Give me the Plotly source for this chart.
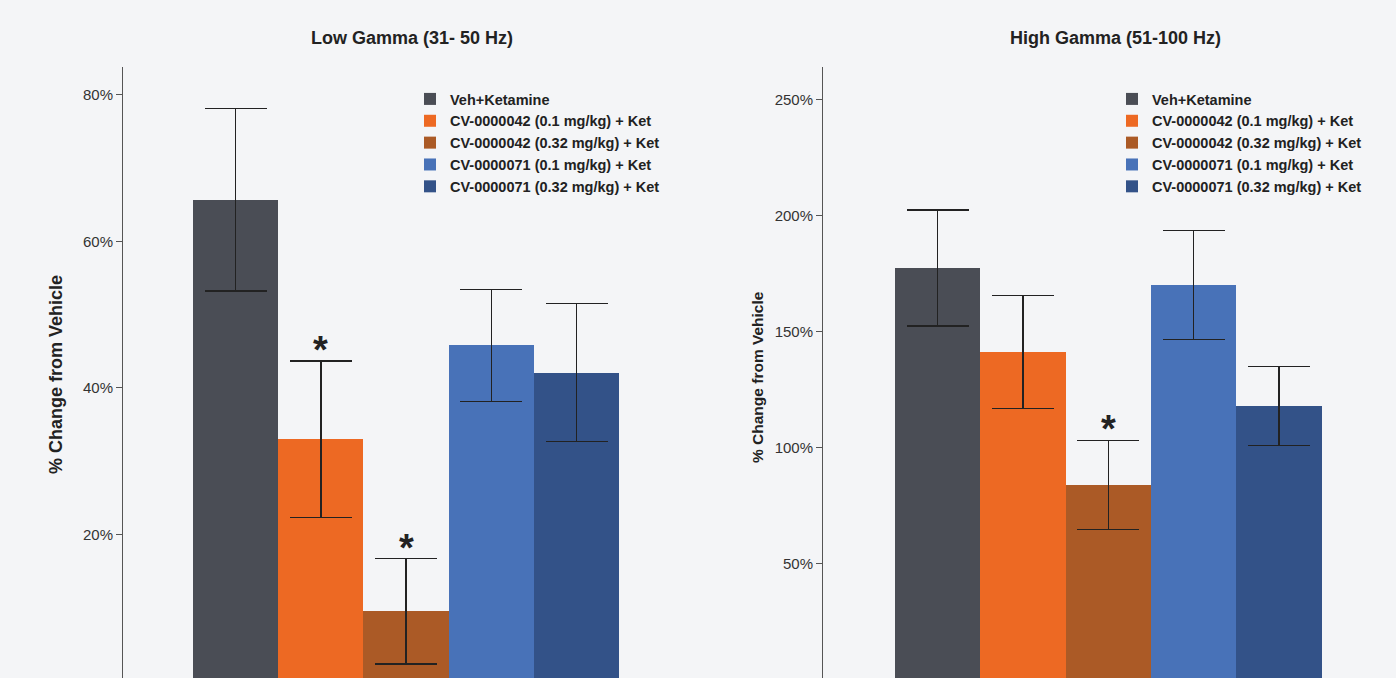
import plotly.graph_objects as go

W, H = 1396, 678

series = ["Veh+Ketamine", "CV-0000042 (0.1 mg/kg) + Ket", "CV-0000042 (0.32 mg/kg) + Ket",
          "CV-0000071 (0.1 mg/kg) + Ket", "CV-0000071 (0.32 mg/kg) + Ket"]
colors = ["#4a4d55", "#ed6923", "#ab5a26", "#4872b8", "#335288"]

low_vals = [65.7, 33.0, 9.5, 45.8, 42.1]
low_err = [12.45, 10.7, 7.2, 7.65, 9.4]
low_sig = [False, True, True, False, False]

high_vals = [177.6, 141.4, 84.1, 170.3, 118.1]
high_err = [25.0, 24.3, 19.2, 23.5, 17.0]
high_sig = [False, False, True, False, False]

low_ticks = [20, 40, 60, 80]
low_ticktext = ["20%", "40%", "60%", "80%"]
high_ticks = [50, 100, 150, 200, 250]
high_ticktext = ["50%", "100%", "150%", "200%", "250%"]

FONT = "Liberation Sans"
fig = go.Figure()

for vals, errs, legend, xa, ya in [
        (low_vals, low_err, "legend", "x", "y"),
        (high_vals, high_err, "legend2", "x2", "y2")]:
    for i, (name, c) in enumerate(zip(series, colors)):
        fig.add_trace(go.Bar(
            x=[i], y=[vals[i]], width=[1.0], name="<b>" + name + "</b>",
            marker=dict(color=c, line=dict(width=0)),
            error_y=dict(type="data", array=[errs[i]], visible=True,
                         color="#222222", thickness=1.5, width=31),
            xaxis=xa, yaxis=ya, legend=legend, showlegend=True,
        ))

annotations = []
for vals, errs, sig, xa, ya in [(low_vals, low_err, low_sig, "x", "y"),
                                 (high_vals, high_err, high_sig, "x2", "y2")]:
    for i in range(len(vals)):
        if sig[i]:
            annotations.append(dict(x=i, y=vals[i] + errs[i], xref=xa, yref=ya,
                                    text="<b>*</b>", showarrow=False, yanchor="bottom",
                                    yshift=-12, font=dict(size=38, color="#222222", family=FONT)))

annotations += [
    dict(x=412 / W, y=1 - 38 / H, xref="paper", yref="paper", text="<b>Low Gamma (31- 50 Hz)</b>",
         xanchor="center", yanchor="middle", showarrow=False,
         font=dict(size=18, color="#222222", family=FONT)),
    dict(x=1115 / W, y=1 - 38 / H, xref="paper", yref="paper", text="<b>High Gamma (51-100 Hz)</b>",
         xanchor="center", yanchor="middle", showarrow=False,
         font=dict(size=18, color="#222222", family=FONT)),
    dict(x=56 / W, y=1 - 375 / H, xref="paper", yref="paper", text="<b>% Change from Vehicle</b>",
         xanchor="center", yanchor="middle", textangle=-90, showarrow=False,
         font=dict(size=18, color="#222222", family=FONT)),
    dict(x=757 / W, y=1 - 377 / H, xref="paper", yref="paper", text="<b>% Change from Vehicle</b>",
         xanchor="center", yanchor="middle", textangle=-90, showarrow=False,
         font=dict(size=15.5, color="#222222", family=FONT)),
]

yaxis_common = dict(showgrid=False, zeroline=False, showline=True, linecolor="#555555", linewidth=1,
                    ticks="outside", ticklen=6, tickcolor="#555555", tickmode="array",
                    tickfont=dict(size=15, color="#333333", family=FONT), domain=[0, 1 - 67 / H])
xaxis_common = dict(showgrid=False, zeroline=False, showline=False, showticklabels=False, ticks="")

legend_common = dict(bgcolor="rgba(0,0,0,0)", font=dict(size=14.5, color="#222222", family=FONT),
                     xanchor="left", yanchor="top", tracegroupgap=0, itemwidth=30)

fig.update_layout(
    width=W, height=H, margin=dict(l=0, r=0, t=0, b=0),
    paper_bgcolor="#f4f5f7", plot_bgcolor="#f4f5f7",
    barmode="overlay", bargap=0,
    xaxis=dict(domain=[123 / W, 690 / W], range=[-1.32, 5.33], **xaxis_common),
    xaxis2=dict(domain=[823 / W, 1390 / W], range=[-1.344, 5.30], **xaxis_common),
    yaxis=dict(range=[0.4, 83.8], tickvals=low_ticks, ticktext=low_ticktext, anchor="x", **yaxis_common),
    yaxis2=dict(range=[0.86, 264.2], tickvals=high_ticks, ticktext=high_ticktext, anchor="x2", **yaxis_common),
    legend=dict(x=410 / W, y=1 - 83 / H, **legend_common),
    legend2=dict(x=1112 / W, y=1 - 83 / H, **legend_common),
    annotations=annotations,
)

fig.write_html("out.html", config={"displayModeBar": False},
               post_script="document.body.style.margin='0';document.body.style.background='#f4f5f7';")
